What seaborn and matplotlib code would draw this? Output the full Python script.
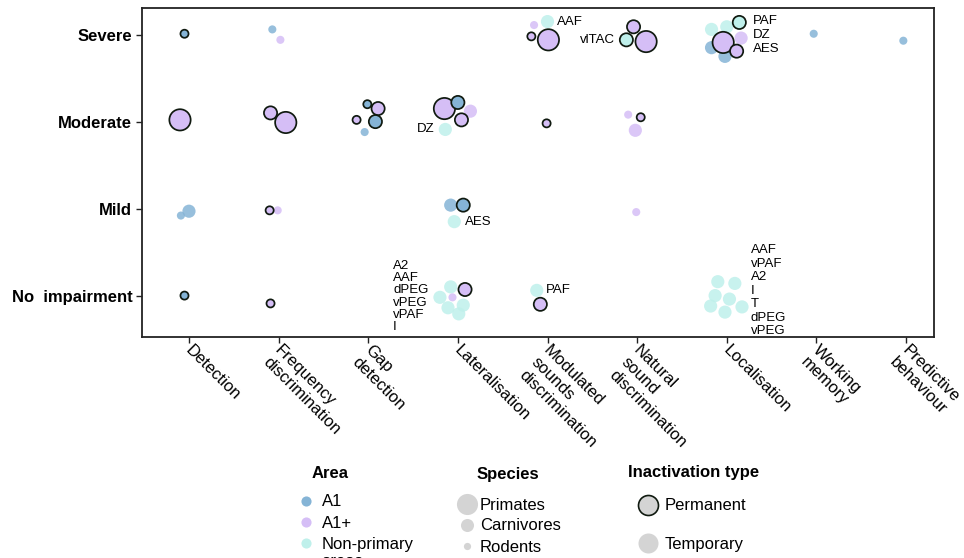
import numpy as np
import pandas as pd
import matplotlib
matplotlib.use("Agg")
import matplotlib.pyplot as plt
import matplotlib.transforms as mtransforms
import seaborn as sns
from matplotlib.lines import Line2D

sns.set_style("ticks")
plt.rcParams["font.family"] = ["Liberation Sans", "DejaVu Sans"]
plt.rcParams.update({"text.color": "black", "xtick.color": "black", "ytick.color": "black",
                     "axes.labelcolor": "black"})

# ---------------- data ----------------
tasks = ["Detection", "Frequency\ndiscrimination", "Gap\ndetection", "Lateralisation",
         "Modulated\nsounds\ndiscrimination", "Natural\nsound\ndiscrimination",
         "Localisation", "Working\nmemory", "Predictive\nbehaviour"]
task_keys = ["Det", "Freq", "Gap", "Lat", "Mod", "Nat", "Loc", "WM", "Pred"]
levels = ["No  impairment", "Mild", "Moderate", "Severe"]
level_keys = ["None", "Mild", "Moderate", "Severe"]

area_names = ["A1", "A1+", "Non-primary"]
area_label_second_line = "areas"
species_names = ["Primates", "Carnivores", "Rodents"]
type_names = ["Permanent", "Temporary"]

pt_task = (["Det"] * 5 + ["Freq"] * 7 + ["Gap"] * 5 + ["Lat"] * 15 + ["Mod"] * 7 +
           ["Nat"] * 7 + ["Loc"] * 15 + ["WM"] + ["Pred"])
pt_level = ["Severe", "Moderate", "Mild", "Mild", "None",
            "Severe", "Severe", "Moderate", "Moderate", "Mild", "Mild", "None",
            "Moderate", "Moderate", "Moderate", "Moderate", "Moderate",
            "Moderate", "Moderate", "Moderate", "Moderate", "Moderate", "Mild", "Mild", "Mild",
            "None", "None", "None", "None", "None", "None", "None",
            "Severe", "Severe", "Severe", "Severe", "Moderate", "None", "None",
            "Severe", "Severe", "Severe", "Moderate", "Moderate", "Moderate", "Mild",
            "Severe", "Severe", "Severe", "Severe", "Severe", "Severe", "Severe", "Severe",
            "None", "None", "None", "None", "None", "None", "None",
            "Severe", "Severe"]
pt_area = ["A1", "A1+", "A1", "A1", "A1",
           "A1", "A1+", "A1+", "A1+", "A1+", "A1+", "A1+",
           "A1", "A1+", "A1+", "A1", "A1",
           "A1+", "A1", "A1+", "A1+", "NP", "A1", "A1", "NP",
           "NP", "A1+", "NP", "A1+", "NP", "NP", "NP",
           "A1+", "NP", "A1+", "A1+", "A1+", "NP", "A1+",
           "A1+", "NP", "A1+", "A1+", "A1+", "A1+", "A1+",
           "NP", "NP", "NP", "A1+", "A1", "A1", "A1+", "A1+",
           "NP", "NP", "NP", "NP", "NP", "NP", "NP",
           "A1", "A1"]
pt_species = ["R", "P", "R", "C", "R",
              "R", "R", "C", "P", "R", "R", "R",
              "R", "C", "R", "C", "R",
              "P", "C", "C", "C", "C", "C", "C", "C",
              "C", "C", "C", "R", "C", "C", "C",
              "R", "C", "R", "P", "R", "C", "C",
              "C", "C", "P", "R", "R", "C", "R",
              "C", "C", "C", "C", "C", "C", "P", "C",
              "C", "C", "C", "C", "C", "C", "C",
              "R", "R"]
pt_type = ["P", "P", "T", "T", "P",
           "T", "T", "P", "P", "P", "T", "P",
           "P", "P", "P", "P", "T",
           "P", "P", "T", "P", "T", "T", "P", "T",
           "T", "P", "T", "T", "T", "T", "T",
           "T", "T", "P", "P", "P", "T", "P",
           "P", "P", "P", "T", "P", "T", "T",
           "T", "T", "P", "T", "T", "T", "P", "P",
           "T", "T", "T", "T", "T", "T", "T",
           "T", "T"]
# jitter (within-category offsets)
pt_jx = [-0.05, -0.10, -0.09, 0.00, -0.05,
         -0.07, 0.02, -0.09, 0.08, -0.10, -0.01, -0.09,
         -0.01, 0.11, -0.13, 0.08, -0.04,
         -0.15, 0.00, 0.14, 0.04, -0.14, -0.08, 0.06, -0.04,
         -0.08, 0.08, -0.20, -0.06, -0.11, 0.06, 0.01,
         -0.15, 0.00, -0.18, 0.01, -0.01, -0.12, -0.08,
         -0.04, -0.12, 0.10, -0.10, 0.04, -0.02, -0.01,
         -0.17, 0.00, 0.14, 0.16, -0.17, -0.02, -0.04, 0.11,
         -0.10, 0.09, -0.13, 0.03, -0.18, -0.02, 0.17,
         -0.03, -0.03]
pt_jy = [0.02, 0.03, -0.07, -0.02, 0.01,
         0.07, -0.05, 0.11, 0.00, -0.01, -0.01, -0.08,
         0.21, 0.16, 0.03, 0.01, -0.11,
         0.16, 0.23, 0.13, 0.03, -0.08, 0.05, 0.05, -0.14,
         0.11, 0.08, -0.01, -0.01, -0.13, -0.10, -0.20,
         0.12, 0.16, -0.01, -0.05, -0.01, 0.07, -0.09,
         0.10, -0.05, -0.07, 0.09, 0.06, -0.09, -0.03,
         0.07, 0.10, 0.15, -0.03, -0.14, -0.24, -0.08, -0.18,
         0.17, 0.15, 0.01, -0.03, -0.11, -0.18, -0.12,
         0.02, -0.06]

# region annotations
ann_task = ["Lat", "Lat", "Lat", "Mod", "Mod", "Nat", "Loc", "Loc"]
ann_level = ["Moderate", "Mild", "None", "Severe", "None", "Severe", "Severe", "None"]
ann_text = ["DZ", "AES", "A2\nAAF\ndPEG\nvPEG\nvPAF\nI", "AAF", "PAF", "vlTAC",
            "PAF\nDZ\nAES", "AAF\nvPAF\nA2\nI\nT\ndPEG\nvPEG"]
ann_dx = [-0.257, 0.078, -0.722, 0.108, -0.022, -0.245, 0.294, 0.27]
ann_dy = [-0.077, -0.14, 0.0, 0.157, 0.074, -0.053, 0.006, 0.066]
ann_ha = ["right", "left", "left", "left", "left", "right", "left", "left"]
ann_ls = [1.2, 1.2, 1.02, 1.2, 1.2, 1.2, 1.18, 1.17]

# ---------------- build table ----------------
area_map = {"A1": "A1", "A1+": "A1+", "NP": "Non-primary"}
sp_map = {"P": "Primates", "C": "Carnivores", "R": "Rodents"}
ty_map = {"P": "Permanent", "T": "Temporary"}
df = pd.DataFrame({
    "task": pt_task, "level": pt_level,
    "area": [area_map[a] for a in pt_area],
    "species": [sp_map[s] for s in pt_species],
    "type": [ty_map[t] for t in pt_type],
    "jx": pt_jx, "jy": pt_jy,
})
df["x"] = df["task"].map({k: i for i, k in enumerate(task_keys)}) + df["jx"]
df["y"] = df["level"].map({k: i for i, k in enumerate(level_keys)}) + df["jy"]

palette = {"A1": "#85b4d6", "A1+": "#d5bef6", "Non-primary": "#bff0eb"}
sizes = {"Primates": 235, "Carnivores": 90, "Rodents": 34}

fig, ax = plt.subplots(figsize=(9.64, 5.58), dpi=100)
fig.subplots_adjust(left=142 / 964, right=934 / 964, top=1 - 8 / 558, bottom=1 - 337 / 558)

temp = df[df["type"] == "Temporary"]
perm = df[df["type"] == "Permanent"]
sns.scatterplot(data=temp, x="x", y="y", hue="area", size="species", sizes=sizes,
                palette=palette, alpha=0.85, linewidth=0, legend=False, ax=ax, zorder=2)
sns.scatterplot(data=perm, x="x", y="y", hue="area", size="species", sizes=sizes,
                palette=palette, edgecolor="#101a10", linewidth=1.25, legend=False, ax=ax, zorder=3)

for t, l, s, dx, dy, ha, ls in zip(ann_task, ann_level, ann_text, ann_dx, ann_dy, ann_ha, ann_ls):
    ax.text(task_keys.index(t) + dx, level_keys.index(l) + dy, s, ha=ha, va="center",
            fontsize=9.5, linespacing=ls, color="black", zorder=4)

ax.set_xlim(-0.524, 8.312)
ax.set_ylim(-0.466, 3.316)
ax.set_xticks(range(len(tasks)))
ax.set_xticklabels(tasks, rotation=-45, ha="left", va="top", rotation_mode="anchor", fontsize=12)
ax.set_yticks(range(len(levels)))
ax.set_yticklabels(levels, fontweight="bold", fontsize=12)
ax.tick_params(axis="both", direction="out", length=4, width=1, color="#222222", pad=3)
ax.tick_params(axis="x", pad=1)
offset = mtransforms.ScaledTranslation(4 / 100, 1.5 / 100, fig.dpi_scale_trans)
for lab in ax.xaxis.get_majorticklabels():
    lab.set_transform(lab.get_transform() + offset)
ax.set_xlabel("")
ax.set_ylabel("")
for sp in ax.spines.values():
    sp.set_visible(True)
    sp.set_linewidth(1.3)
    sp.set_color("#222222")

# ---------------- legends ----------------
W, H = 964, 558
grey = "#d4d4d4"
fig.text(330 / W, 1 - 474 / H, "Area", ha="center", va="center", fontsize=12, fontweight="bold")
fig.text(507.7 / W, 1 - 475 / H, "Species", ha="center", va="center", fontsize=12, fontweight="bold")
fig.text(694 / W, 1 - 472.7 / H, "Inactivation type", ha="center", va="center", fontsize=12, fontweight="bold")

area_handles = [Line2D([], [], marker="o", linestyle="", markersize=7.3,
                       markerfacecolor=palette[a], markeredgewidth=0) for a in area_names]
leg1 = fig.legend(area_handles, area_names, loc="upper left", bbox_to_anchor=(297.7 / W, 1 - 494.5 / H),
                  frameon=False, fontsize=12, borderpad=0, borderaxespad=0, handlelength=1.0,
                  handletextpad=0.44, labelspacing=0.36)
fig.text(321.7 / W, 1 - 561 / H, area_label_second_line, ha="left", va="center", fontsize=12)

sp_ms = {"Primates": 15.2, "Carnivores": 9.4, "Rodents": 5.2}
sp_handles = [Line2D([], [], marker="o", linestyle="", markersize=sp_ms[s],
                     markerfacecolor=grey, markeredgewidth=0) for s in species_names]
leg2 = fig.legend(sp_handles, species_names, loc="upper left", bbox_to_anchor=(455.3 / W, 1 - 497.5 / H),
                  frameon=False, fontsize=12, borderpad=0, borderaxespad=0, handlelength=1.4,
                  handletextpad=0.08, labelspacing=0.36)

ty_handles = [Line2D([], [], marker="o", linestyle="", markersize=14.4, markerfacecolor=grey,
                     markeredgecolor="#101a10", markeredgewidth=1.2),
              Line2D([], [], marker="o", linestyle="", markersize=14.4, markerfacecolor=grey,
                     markeredgewidth=0)]
leg3 = fig.legend(ty_handles, type_names, loc="upper left", bbox_to_anchor=(636.8 / W, 1 - 498.5 / H),
                  frameon=False, fontsize=12, borderpad=0, borderaxespad=0, handlelength=1.4,
                  handletextpad=0.26, labelspacing=1.42)

fig.savefig("out.png", dpi=100)
